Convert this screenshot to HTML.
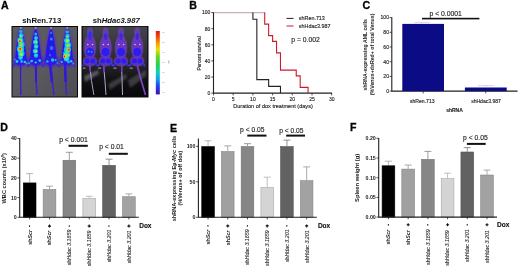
<!DOCTYPE html><html><head><meta charset="utf-8"><style>html,body{margin:0;padding:0;background:#fff}svg{display:block;will-change:transform;opacity:0.999}text{font-family:"Liberation Sans",sans-serif}</style></head><body>
<svg width="520" height="269" viewBox="0 0 520 269">
<defs>
<filter id="b1" x="-50%" y="-50%" width="200%" height="200%"><feGaussianBlur stdDeviation="1"/></filter>
<filter id="b2" x="-50%" y="-50%" width="200%" height="200%"><feGaussianBlur stdDeviation="0.6"/></filter>
<filter id="b3" x="-50%" y="-50%" width="200%" height="200%"><feGaussianBlur stdDeviation="2.2"/></filter>
<filter id="soft" x="-5%" y="-5%" width="110%" height="110%"><feGaussianBlur stdDeviation="0.35"/></filter>
<linearGradient id="cb" x1="0" y1="0" x2="0" y2="1"><stop offset="0" stop-color="#d81810"/><stop offset="0.08" stop-color="#f04010"/><stop offset="0.2" stop-color="#f8a000"/><stop offset="0.29" stop-color="#e4e000"/><stop offset="0.41" stop-color="#60d820"/><stop offset="0.55" stop-color="#20d060"/><stop offset="0.66" stop-color="#10d0c0"/><stop offset="0.76" stop-color="#10a0f0"/><stop offset="0.87" stop-color="#2040f0"/><stop offset="1" stop-color="#4010b0"/></linearGradient>
<linearGradient id="bg1" x1="0" y1="0" x2="1" y2="1"><stop offset="0" stop-color="#5c5c62"/><stop offset="0.5" stop-color="#5a5a60"/><stop offset="1" stop-color="#4c4c52"/></linearGradient>
<linearGradient id="bg2" x1="0" y1="0" x2="0" y2="1"><stop offset="0" stop-color="#44444c"/><stop offset="0.5" stop-color="#2a2a30"/><stop offset="0.75" stop-color="#121216"/><stop offset="1" stop-color="#08080a"/></linearGradient>
<clipPath id="c1"><rect x="12.5" y="27" width="64.5" height="69.5"/></clipPath>
<clipPath id="c2"><rect x="82.5" y="26.5" width="65" height="70"/></clipPath>
</defs>
<g>
<text x="0.9" y="9.1" font-size="10.6" font-weight="bold" fill="#000" stroke="#000" stroke-width="0.3">A</text>
<text x="189.2" y="8.9" font-size="10.6" font-weight="bold" fill="#000" stroke="#000" stroke-width="0.3">B</text>
<text x="362.6" y="9.1" font-size="10.6" font-weight="bold" fill="#000" stroke="#000" stroke-width="0.3">C</text>
<text x="0.2" y="130.9" font-size="10.6" font-weight="bold" fill="#000" stroke="#000" stroke-width="0.3">D</text>
<text x="169.9" y="131.6" font-size="10.6" font-weight="bold" fill="#000" stroke="#000" stroke-width="0.3">E</text>
<text x="349.9" y="131.1" font-size="10.6" font-weight="bold" fill="#000" stroke="#000" stroke-width="0.3">F</text>
<text x="41.8" y="22.6" font-size="7.8" font-weight="bold" text-anchor="middle" fill="#111">shRen.713</text>
<text x="116.2" y="22.7" font-size="7.7" font-weight="bold" text-anchor="middle" fill="#111">sh<tspan font-style="italic">Hdac3.987</tspan></text>
<rect x="11.5" y="26" width="66.5" height="71.5" fill="#0a0a0c"/>
<g clip-path="url(#c1)">
<rect x="12" y="26.5" width="66" height="71" fill="url(#bg1)"/>
<path d="M20.8 26.5 C23.2 30.5 25.42 38.5 27.4 58 C27.9 64 24.76 66 20.8 66 C16.84 66 13.700000000000001 64 14.200000000000001 58 C16.18 38.5 18.400000000000002 30.5 20.8 26.5 Z" fill="#5a30b8" filter="url(#b1)"/>
<ellipse cx="20.8" cy="61.0" rx="7.8" ry="5.5" fill="#4a2cc0" opacity="1" filter="url(#b1)"/>
<path d="M35.7 26.5 C38.1 30.5 40.32 38.5 42.300000000000004 58 C42.800000000000004 64 39.660000000000004 66 35.7 66 C31.740000000000002 66 28.6 64 29.1 58 C31.080000000000005 38.5 33.300000000000004 30.5 35.7 26.5 Z" fill="#5a30b8" filter="url(#b1)"/>
<ellipse cx="35.7" cy="61.0" rx="7.8" ry="5.5" fill="#4a2cc0" opacity="1" filter="url(#b1)"/>
<path d="M51 26.5 C53.4 30.5 55.62 38.5 57.6 58 C58.1 64 54.96 66 51 66 C47.04 66 43.9 64 44.4 58 C46.38 38.5 48.6 30.5 51 26.5 Z" fill="#5a30b8" filter="url(#b1)"/>
<ellipse cx="51.0" cy="61.0" rx="7.8" ry="5.5" fill="#4a2cc0" opacity="1" filter="url(#b1)"/>
<path d="M67.2 26.5 C69.60000000000001 30.5 71.82000000000001 38.5 73.8 58 C74.3 64 71.16 66 67.2 66 C63.24 66 60.1 64 60.6 58 C62.580000000000005 38.5 64.8 30.5 67.2 26.5 Z" fill="#5a30b8" filter="url(#b1)"/>
<ellipse cx="67.2" cy="61.0" rx="7.8" ry="5.5" fill="#4a2cc0" opacity="1" filter="url(#b1)"/>
<path d="M20.8 28 C22.6 32 24.580000000000002 40 26.200000000000003 56 C26.700000000000003 62 24.04 64 20.8 64 C17.560000000000002 64 14.9 62 15.4 56 C17.02 40 19.0 32 20.8 28 Z" fill="#2618ea" filter="url(#b2)"/>
<ellipse cx="20.8" cy="60.5" rx="6.5" ry="4.6" fill="#2a1ce6" opacity="1" filter="url(#b2)"/>
<path d="M15.8 62 L13.4 66.5 M25.8 62 L28.200000000000003 66.5" stroke="#4428d0" stroke-width="1.6" stroke-linecap="round" fill="none" filter="url(#b2)"/>
<path d="M35.7 28 C37.5 32 39.480000000000004 40 41.1 56 C41.6 62 38.940000000000005 64 35.7 64 C32.46 64 29.800000000000004 62 30.300000000000004 56 C31.92 40 33.900000000000006 32 35.7 28 Z" fill="#2618ea" filter="url(#b2)"/>
<ellipse cx="35.7" cy="60.5" rx="6.5" ry="4.6" fill="#2a1ce6" opacity="1" filter="url(#b2)"/>
<path d="M30.700000000000003 62 L28.300000000000004 66.5 M40.7 62 L43.1 66.5" stroke="#4428d0" stroke-width="1.6" stroke-linecap="round" fill="none" filter="url(#b2)"/>
<path d="M51 28 C52.8 32 54.78 40 56.4 56 C56.9 62 54.24 64 51 64 C47.76 64 45.1 62 45.6 56 C47.22 40 49.2 32 51 28 Z" fill="#2618ea" filter="url(#b2)"/>
<ellipse cx="51.0" cy="60.5" rx="6.5" ry="4.6" fill="#2a1ce6" opacity="1" filter="url(#b2)"/>
<path d="M46 62 L43.6 66.5 M56 62 L58.4 66.5" stroke="#4428d0" stroke-width="1.6" stroke-linecap="round" fill="none" filter="url(#b2)"/>
<path d="M67.2 28 C69.0 32 70.98 40 72.60000000000001 56 C73.10000000000001 62 70.44 64 67.2 64 C63.96 64 61.300000000000004 62 61.800000000000004 56 C63.42 40 65.4 32 67.2 28 Z" fill="#2618ea" filter="url(#b2)"/>
<ellipse cx="67.2" cy="60.5" rx="6.5" ry="4.6" fill="#2a1ce6" opacity="1" filter="url(#b2)"/>
<path d="M62.2 62 L59.800000000000004 66.5 M72.2 62 L74.60000000000001 66.5" stroke="#4428d0" stroke-width="1.6" stroke-linecap="round" fill="none" filter="url(#b2)"/>
<path d="M20.6 63 Q20.2 80 20.9 95" stroke="#3a22d4" stroke-width="1.5" fill="none" filter="url(#b2)"/>
<path d="M20.6 63 Q20.4 72 20.475 82" stroke="#3018e0" stroke-width="2.6" fill="none" filter="url(#b2)"/>
<path d="M35.4 63 Q35.9 80 37 95" stroke="#3a22d4" stroke-width="1.5" fill="none" filter="url(#b2)"/>
<path d="M35.4 63 Q35.65 72 36.05 82" stroke="#3018e0" stroke-width="2.6" fill="none" filter="url(#b2)"/>
<path d="M50 63 Q52 80 54 95" stroke="#3a22d4" stroke-width="1.5" fill="none" filter="url(#b2)"/>
<path d="M50 63 Q51.0 72 52.0 82" stroke="#3018e0" stroke-width="2.6" fill="none" filter="url(#b2)"/>
<path d="M64.9 63 Q65.6 80 66.5 95" stroke="#3a22d4" stroke-width="1.5" fill="none" filter="url(#b2)"/>
<path d="M64.9 63 Q65.25 72 65.65 82" stroke="#3018e0" stroke-width="2.6" fill="none" filter="url(#b2)"/>
<circle cx="20.8" cy="31.5" r="1.7" fill="#18b4f0" opacity="1" filter="url(#b2)"/>
<circle cx="21.1" cy="35.5" r="2.4" fill="#18b4f0" opacity="1" filter="url(#b2)"/>
<circle cx="20.4" cy="40.0" r="3.1" fill="#18b4f0" opacity="1" filter="url(#b2)"/>
<circle cx="21.3" cy="44.5" r="3.4" fill="#18b4f0" opacity="1" filter="url(#b2)"/>
<circle cx="20.5" cy="49.0" r="3.7" fill="#18b4f0" opacity="1" filter="url(#b2)"/>
<circle cx="21.2" cy="53.5" r="3.4" fill="#18b4f0" opacity="1" filter="url(#b2)"/>
<circle cx="20.6" cy="57.5" r="2.4" fill="#18b4f0" opacity="1" filter="url(#b2)"/>
<circle cx="21.6" cy="61.5" r="1.4" fill="#18b4f0" opacity="1" filter="url(#b2)"/>
<circle cx="21.0" cy="36.0" r="1.4" fill="#30e0c8" opacity="1" filter="url(#b2)"/>
<circle cx="20.3" cy="40.8" r="2.2" fill="#30e0c8" opacity="1" filter="url(#b2)"/>
<circle cx="21.2" cy="45.0" r="2.2" fill="#30e0c8" opacity="1" filter="url(#b2)"/>
<circle cx="20.4" cy="49.5" r="2.6" fill="#30e0c8" opacity="1" filter="url(#b2)"/>
<circle cx="21.2" cy="54.0" r="2.2" fill="#30e0c8" opacity="1" filter="url(#b2)"/>
<circle cx="20.6" cy="57.5" r="1.2" fill="#30e0c8" opacity="1" filter="url(#b2)"/>
<circle cx="20.2" cy="40.5" r="1.9" fill="#78e858" opacity="1" filter="url(#b2)"/>
<circle cx="21.1" cy="45.0" r="1.7" fill="#78e858" opacity="1" filter="url(#b2)"/>
<circle cx="20.3" cy="49.3" r="2.1" fill="#78e858" opacity="1" filter="url(#b2)"/>
<circle cx="21.2" cy="54.0" r="1.6" fill="#78e858" opacity="1" filter="url(#b2)"/>
<circle cx="20.8" cy="36.5" r="1.0" fill="#78e858" opacity="1" filter="url(#b2)"/>
<circle cx="35.7" cy="34.0" r="1.5" fill="#18b0f0" opacity="1" filter="url(#b2)"/>
<circle cx="36.0" cy="38.0" r="2.0" fill="#18b0f0" opacity="1" filter="url(#b2)"/>
<circle cx="35.5" cy="42.0" r="2.6" fill="#18b0f0" opacity="1" filter="url(#b2)"/>
<circle cx="36.1" cy="46.5" r="2.4" fill="#18b0f0" opacity="1" filter="url(#b2)"/>
<circle cx="35.4" cy="51.0" r="2.6" fill="#18b0f0" opacity="1" filter="url(#b2)"/>
<circle cx="36.0" cy="55.5" r="2.2" fill="#18b0f0" opacity="1" filter="url(#b2)"/>
<circle cx="36.0" cy="38.2" r="1.2" fill="#28d8d8" opacity="1" filter="url(#b2)"/>
<circle cx="35.5" cy="42.0" r="1.8" fill="#28d8d8" opacity="1" filter="url(#b2)"/>
<circle cx="36.1" cy="46.5" r="1.5" fill="#28d8d8" opacity="1" filter="url(#b2)"/>
<circle cx="35.5" cy="51.3" r="1.8" fill="#28d8d8" opacity="1" filter="url(#b2)"/>
<circle cx="36.0" cy="55.3" r="1.3" fill="#28d8d8" opacity="1" filter="url(#b2)"/>
<circle cx="67.2" cy="32.0" r="1.7" fill="#18b4f0" opacity="1" filter="url(#b2)"/>
<circle cx="67.5" cy="36.0" r="2.3" fill="#18b4f0" opacity="1" filter="url(#b2)"/>
<circle cx="67.0" cy="40.5" r="3.0" fill="#18b4f0" opacity="1" filter="url(#b2)"/>
<circle cx="67.8" cy="45.0" r="3.3" fill="#18b4f0" opacity="1" filter="url(#b2)"/>
<circle cx="67.4" cy="49.5" r="3.6" fill="#18b4f0" opacity="1" filter="url(#b2)"/>
<circle cx="66.8" cy="54.0" r="3.7" fill="#18b4f0" opacity="1" filter="url(#b2)"/>
<circle cx="66.6" cy="58.5" r="2.9" fill="#18b4f0" opacity="1" filter="url(#b2)"/>
<circle cx="68.4" cy="62.0" r="1.4" fill="#18b4f0" opacity="1" filter="url(#b2)"/>
<circle cx="67.5" cy="36.7" r="1.3" fill="#30e0c8" opacity="1" filter="url(#b2)"/>
<circle cx="67.0" cy="41.0" r="2.0" fill="#30e0c8" opacity="1" filter="url(#b2)"/>
<circle cx="67.8" cy="45.5" r="2.2" fill="#30e0c8" opacity="1" filter="url(#b2)"/>
<circle cx="67.6" cy="50.0" r="2.4" fill="#30e0c8" opacity="1" filter="url(#b2)"/>
<circle cx="66.6" cy="54.5" r="2.6" fill="#30e0c8" opacity="1" filter="url(#b2)"/>
<circle cx="66.3" cy="58.6" r="2.2" fill="#30e0c8" opacity="1" filter="url(#b2)"/>
<circle cx="67.5" cy="40.5" r="1.7" fill="#78e858" opacity="1" filter="url(#b2)"/>
<circle cx="68.0" cy="45.5" r="1.8" fill="#78e858" opacity="1" filter="url(#b2)"/>
<circle cx="68.2" cy="50.0" r="2.0" fill="#78e858" opacity="1" filter="url(#b2)"/>
<circle cx="66.0" cy="55.5" r="2.1" fill="#78e858" opacity="1" filter="url(#b2)"/>
<circle cx="67.4" cy="36.5" r="1.0" fill="#78e858" opacity="1" filter="url(#b2)"/>
<circle cx="20.0" cy="41.2" r="1.5" fill="#f0d818" opacity="1" filter="url(#b2)"/>
<circle cx="20.2" cy="48.9" r="1.7" fill="#f0c010" opacity="1" filter="url(#b2)"/>
<circle cx="19.8" cy="41.2" r="0.9" fill="#e82010" opacity="1" filter="url(#b2)"/>
<circle cx="20.2" cy="49.0" r="1.0" fill="#e83010" opacity="1" filter="url(#b2)"/>
<circle cx="21.3" cy="54.8" r="1.1" fill="#c8e820" opacity="1" filter="url(#b2)"/>
<circle cx="17.0" cy="61.5" r="1.4" fill="#20d0e8" opacity="1" filter="url(#b2)"/>
<circle cx="24.8" cy="62.0" r="1.3" fill="#20c8e8" opacity="1" filter="url(#b2)"/>
<circle cx="14.8" cy="59.5" r="1.0" fill="#20a0f0" opacity="1" filter="url(#b2)"/>
<circle cx="26.8" cy="63.5" r="0.9" fill="#28b0f0" opacity="1" filter="url(#b2)"/>
<circle cx="36.0" cy="41.8" r="1.2" fill="#80e840" opacity="1" filter="url(#b2)"/>
<circle cx="36.0" cy="46.8" r="1.0" fill="#60e070" opacity="1" filter="url(#b2)"/>
<circle cx="35.7" cy="51.3" r="1.3" fill="#80e840" opacity="1" filter="url(#b2)"/>
<circle cx="36.2" cy="42.0" r="0.6" fill="#f0d020" opacity="1" filter="url(#b2)"/>
<circle cx="31.7" cy="61.0" r="1.3" fill="#20c8e8" opacity="1" filter="url(#b2)"/>
<circle cx="39.7" cy="60.5" r="1.3" fill="#20d0e0" opacity="1" filter="url(#b2)"/>
<circle cx="35.7" cy="62.5" r="1.1" fill="#28d8d0" opacity="1" filter="url(#b2)"/>
<circle cx="29.2" cy="63.0" r="0.9" fill="#20a8f0" opacity="1" filter="url(#b2)"/>
<circle cx="51.0" cy="33.0" r="1.2" fill="#2070f0" opacity="1" filter="url(#b2)"/>
<circle cx="51.3" cy="39.0" r="1.5" fill="#2088f0" opacity="1" filter="url(#b2)"/>
<circle cx="51.6" cy="48.0" r="1.9" fill="#3070f0" opacity="1" filter="url(#b2)"/>
<circle cx="52.6" cy="60.0" r="1.7" fill="#20c0e8" opacity="1" filter="url(#b2)"/>
<circle cx="47.4" cy="61.5" r="1.2" fill="#20b0e8" opacity="1" filter="url(#b2)"/>
<circle cx="55.7" cy="60.0" r="1.1" fill="#20b0e8" opacity="1" filter="url(#b2)"/>
<circle cx="50.0" cy="55.0" r="1.2" fill="#3060f0" opacity="1" filter="url(#b2)"/>
<circle cx="57.3" cy="63.0" r="0.8" fill="#20a8f0" opacity="1" filter="url(#b2)"/>
<circle cx="67.6" cy="41.0" r="1.0" fill="#d0e820" opacity="1" filter="url(#b2)"/>
<circle cx="68.8" cy="49.6" r="1.5" fill="#f0a010" opacity="1" filter="url(#b2)"/>
<circle cx="68.9" cy="49.8" r="0.8" fill="#e83010" opacity="1" filter="url(#b2)"/>
<circle cx="64.6" cy="56.5" r="1.7" fill="#e8d820" opacity="1" filter="url(#b2)"/>
<circle cx="64.3" cy="56.5" r="0.9" fill="#e82810" opacity="1" filter="url(#b2)"/>
<circle cx="68.8" cy="55.5" r="1.0" fill="#b0e830" opacity="1" filter="url(#b2)"/>
<circle cx="71.1" cy="61.3" r="1.3" fill="#20d0e0" opacity="1" filter="url(#b2)"/>
<circle cx="61.8" cy="61.8" r="1.1" fill="#20c0e8" opacity="1" filter="url(#b2)"/>
<circle cx="73.2" cy="63.5" r="0.9" fill="#20a8f0" opacity="1" filter="url(#b2)"/>
<circle cx="20.8" cy="28" r="1.0" fill="#a0a0b0" filter="url(#b2)"/>
<circle cx="35.7" cy="28" r="1.0" fill="#a0a0b0" filter="url(#b2)"/>
<circle cx="51" cy="28" r="1.0" fill="#a0a0b0" filter="url(#b2)"/>
<circle cx="67.2" cy="28" r="1.0" fill="#a0a0b0" filter="url(#b2)"/>
</g>
<rect x="81.5" y="26" width="67" height="71.5" fill="#0a0a0c"/>
<g clip-path="url(#c2)">
<rect x="82.5" y="26.5" width="65" height="70" fill="url(#bg2)"/>
<path d="M84 76 L98 70 L99 74 L85 82 Z" fill="#8a8a92" opacity="0.55" filter="url(#b1)"/>
<path d="M108 84 L126 74 L127 78 L110 90 Z" fill="#8a8a92" opacity="0.35" filter="url(#b1)"/>
<path d="M128 80 L146 70 L146 76 L130 88 Z" fill="#8a8a92" opacity="0.35" filter="url(#b1)"/>
<ellipse cx="90.0" cy="32.0" rx="3.0" ry="4.8" fill="#5a5862" opacity="1" filter="url(#b2)"/>
<ellipse cx="90.0" cy="47.0" rx="6.0" ry="12.5" fill="#54525c" opacity="1" filter="url(#b2)"/>
<ellipse cx="90.0" cy="61.0" rx="7.0" ry="5.2" fill="#504e58" opacity="1" filter="url(#b2)"/>
<ellipse cx="105.6" cy="32.0" rx="3.0" ry="4.8" fill="#5a5862" opacity="1" filter="url(#b2)"/>
<ellipse cx="105.6" cy="47.0" rx="6.0" ry="12.5" fill="#54525c" opacity="1" filter="url(#b2)"/>
<ellipse cx="105.6" cy="61.0" rx="7.0" ry="5.2" fill="#504e58" opacity="1" filter="url(#b2)"/>
<ellipse cx="121.0" cy="32.0" rx="3.0" ry="4.8" fill="#5a5862" opacity="1" filter="url(#b2)"/>
<ellipse cx="121.0" cy="47.0" rx="6.0" ry="12.5" fill="#54525c" opacity="1" filter="url(#b2)"/>
<ellipse cx="121.0" cy="61.0" rx="7.0" ry="5.2" fill="#504e58" opacity="1" filter="url(#b2)"/>
<ellipse cx="137.2" cy="32.0" rx="3.0" ry="4.8" fill="#5a5862" opacity="1" filter="url(#b2)"/>
<ellipse cx="137.2" cy="47.0" rx="6.0" ry="12.5" fill="#54525c" opacity="1" filter="url(#b2)"/>
<ellipse cx="137.2" cy="61.0" rx="7.0" ry="5.2" fill="#504e58" opacity="1" filter="url(#b2)"/>
<ellipse cx="90.0" cy="34.0" rx="2.5" ry="5.2" fill="#6a30c8" opacity="0.95" filter="url(#b1)"/>
<ellipse cx="90.0" cy="48.0" rx="5.6" ry="11.5" fill="#6c30cc" opacity="0.95" filter="url(#b1)"/>
<ellipse cx="90.0" cy="61.0" rx="6.8" ry="4.8" fill="#6030c0" opacity="0.95" filter="url(#b1)"/>
<path d="M85 62 L82.8 65.5 M95 62 L97.2 65.5" stroke="#5a30c8" stroke-width="1.8" stroke-linecap="round" fill="none" filter="url(#b2)"/>
<ellipse cx="105.6" cy="34.0" rx="2.5" ry="5.2" fill="#6a30c8" opacity="0.95" filter="url(#b1)"/>
<ellipse cx="105.6" cy="48.0" rx="5.6" ry="11.5" fill="#6c30cc" opacity="0.95" filter="url(#b1)"/>
<ellipse cx="105.6" cy="61.0" rx="6.8" ry="4.8" fill="#6030c0" opacity="0.95" filter="url(#b1)"/>
<path d="M100.6 62 L98.39999999999999 65.5 M110.6 62 L112.8 65.5" stroke="#5a30c8" stroke-width="1.8" stroke-linecap="round" fill="none" filter="url(#b2)"/>
<ellipse cx="121.0" cy="34.0" rx="2.5" ry="5.2" fill="#6a30c8" opacity="0.95" filter="url(#b1)"/>
<ellipse cx="121.0" cy="48.0" rx="5.6" ry="11.5" fill="#6c30cc" opacity="0.95" filter="url(#b1)"/>
<ellipse cx="121.0" cy="61.0" rx="6.8" ry="4.8" fill="#6030c0" opacity="0.95" filter="url(#b1)"/>
<path d="M116 62 L113.8 65.5 M126 62 L128.2 65.5" stroke="#5a30c8" stroke-width="1.8" stroke-linecap="round" fill="none" filter="url(#b2)"/>
<ellipse cx="137.2" cy="34.0" rx="2.5" ry="5.2" fill="#6a30c8" opacity="0.95" filter="url(#b1)"/>
<ellipse cx="137.2" cy="48.0" rx="5.6" ry="11.5" fill="#6c30cc" opacity="0.95" filter="url(#b1)"/>
<ellipse cx="137.2" cy="61.0" rx="6.8" ry="4.8" fill="#6030c0" opacity="0.95" filter="url(#b1)"/>
<path d="M132.2 62 L130.0 65.5 M142.2 62 L144.39999999999998 65.5" stroke="#5a30c8" stroke-width="1.8" stroke-linecap="round" fill="none" filter="url(#b2)"/>
<path d="M89.8 66 Q91 80 93.9 95" stroke="#a898c8" stroke-width="1.0" fill="none" filter="url(#b2)"/>
<path d="M89.8 65 L90.4 72" stroke="#6a38c8" stroke-width="1.6" fill="none" filter="url(#b2)"/>
<path d="M103.7 66 Q105 80 106 95" stroke="#b0a8c8" stroke-width="1.0" fill="none" filter="url(#b2)"/>
<path d="M103.7 65 L104.35 72" stroke="#6a38c8" stroke-width="1.6" fill="none" filter="url(#b2)"/>
<path d="M121.7 66 Q122 80 122.5 95" stroke="#b0a8c8" stroke-width="1.0" fill="none" filter="url(#b2)"/>
<path d="M121.7 65 L121.85 72" stroke="#6a38c8" stroke-width="1.6" fill="none" filter="url(#b2)"/>
<path d="M137.3 66 Q141 80 145.5 95" stroke="#7a48c8" stroke-width="1.6" fill="none" filter="url(#b2)"/>
<path d="M137.3 65 L139.15 72" stroke="#6a38c8" stroke-width="1.6" fill="none" filter="url(#b2)"/>
<ellipse cx="90.0" cy="36.5" rx="1.5" ry="3.6" fill="#3826ec" opacity="1" filter="url(#b2)"/>
<circle cx="90.0" cy="52.0" r="3.9" fill="#2a1cf2" opacity="1" filter="url(#b2)"/>
<circle cx="87.2" cy="61.0" r="2.5" fill="#2a1cf2" opacity="1" filter="url(#b2)"/>
<circle cx="92.8" cy="61.0" r="2.5" fill="#2a1cf2" opacity="1" filter="url(#b2)"/>
<circle cx="84.0" cy="64.5" r="1.1" fill="#3424e8" opacity="1" filter="url(#b2)"/>
<circle cx="96.0" cy="64.5" r="1.1" fill="#3424e8" opacity="1" filter="url(#b2)"/>
<circle cx="87.8" cy="44.5" r="0.8" fill="#e0c0e8" opacity="1" filter="url(#b2)"/>
<circle cx="92.6" cy="44.5" r="0.8" fill="#e0c0e8" opacity="1" filter="url(#b2)"/>
<rect x="82.5" y="67.6" width="3" height="1.1" fill="#c8c8cc" opacity="0.75" filter="url(#b2)"/>
<ellipse cx="105.6" cy="36.5" rx="1.5" ry="3.6" fill="#3826ec" opacity="1" filter="url(#b2)"/>
<circle cx="105.6" cy="52.0" r="3.9" fill="#2a1cf2" opacity="1" filter="url(#b2)"/>
<circle cx="102.8" cy="61.0" r="2.5" fill="#2a1cf2" opacity="1" filter="url(#b2)"/>
<circle cx="108.4" cy="61.0" r="2.5" fill="#2a1cf2" opacity="1" filter="url(#b2)"/>
<circle cx="99.6" cy="64.5" r="1.1" fill="#3424e8" opacity="1" filter="url(#b2)"/>
<circle cx="111.6" cy="64.5" r="1.1" fill="#3424e8" opacity="1" filter="url(#b2)"/>
<circle cx="103.4" cy="44.5" r="0.8" fill="#e0c0e8" opacity="1" filter="url(#b2)"/>
<circle cx="108.2" cy="44.5" r="0.8" fill="#e0c0e8" opacity="1" filter="url(#b2)"/>
<rect x="98.1" y="67.6" width="3" height="1.1" fill="#c8c8cc" opacity="0.75" filter="url(#b2)"/>
<ellipse cx="121.0" cy="36.5" rx="1.5" ry="3.6" fill="#3826ec" opacity="1" filter="url(#b2)"/>
<circle cx="121.0" cy="52.0" r="3.9" fill="#2a1cf2" opacity="1" filter="url(#b2)"/>
<circle cx="118.2" cy="61.0" r="2.5" fill="#2a1cf2" opacity="1" filter="url(#b2)"/>
<circle cx="123.8" cy="61.0" r="2.5" fill="#2a1cf2" opacity="1" filter="url(#b2)"/>
<circle cx="115.0" cy="64.5" r="1.1" fill="#3424e8" opacity="1" filter="url(#b2)"/>
<circle cx="127.0" cy="64.5" r="1.1" fill="#3424e8" opacity="1" filter="url(#b2)"/>
<circle cx="118.8" cy="44.5" r="0.8" fill="#e0c0e8" opacity="1" filter="url(#b2)"/>
<circle cx="123.6" cy="44.5" r="0.8" fill="#e0c0e8" opacity="1" filter="url(#b2)"/>
<rect x="113.5" y="67.6" width="3" height="1.1" fill="#c8c8cc" opacity="0.75" filter="url(#b2)"/>
<ellipse cx="137.2" cy="36.5" rx="1.5" ry="3.6" fill="#3826ec" opacity="1" filter="url(#b2)"/>
<circle cx="137.2" cy="52.0" r="3.9" fill="#2a1cf2" opacity="1" filter="url(#b2)"/>
<circle cx="134.4" cy="61.0" r="2.5" fill="#2a1cf2" opacity="1" filter="url(#b2)"/>
<circle cx="140.0" cy="61.0" r="2.5" fill="#2a1cf2" opacity="1" filter="url(#b2)"/>
<circle cx="131.2" cy="64.5" r="1.1" fill="#3424e8" opacity="1" filter="url(#b2)"/>
<circle cx="143.2" cy="64.5" r="1.1" fill="#3424e8" opacity="1" filter="url(#b2)"/>
<circle cx="135.0" cy="44.5" r="0.8" fill="#e0c0e8" opacity="1" filter="url(#b2)"/>
<circle cx="139.8" cy="44.5" r="0.8" fill="#e0c0e8" opacity="1" filter="url(#b2)"/>
<rect x="129.7" y="67.6" width="3" height="1.1" fill="#c8c8cc" opacity="0.75" filter="url(#b2)"/>
<circle cx="90.3" cy="33.5" r="1.9" fill="#2a30f8" opacity="1" filter="url(#b2)"/>
<circle cx="88.5" cy="51.5" r="1.0" fill="#30a0f0" opacity="1" filter="url(#b2)"/>
<circle cx="91.6" cy="52.0" r="0.9" fill="#3090f0" opacity="1" filter="url(#b2)"/>
</g>
<rect x="155.8" y="31" width="4" height="63.4" fill="url(#cb)"/>
<rect x="162.2" y="32" width="2.4" height="0.8" fill="#c8c8c8"/>
<rect x="162.2" y="42" width="2.4" height="0.8" fill="#c8c8c8"/>
<rect x="162.2" y="52" width="2.4" height="0.8" fill="#c8c8c8"/>
<rect x="162.2" y="62" width="2.4" height="0.8" fill="#c8c8c8"/>
<rect x="162.2" y="72" width="2.4" height="0.8" fill="#c8c8c8"/>
<rect x="162.2" y="82" width="2.4" height="0.8" fill="#c8c8c8"/>
<rect x="162.2" y="92" width="2.4" height="0.8" fill="#c8c8c8"/>
<rect x="168.2" y="60.5" width="1.2" height="3" fill="#b8b8b8"/>
<path d="M213.5 12.299999999999994 V93.1 H332.0" stroke="#222" stroke-width="1.1" fill="none"/>
<line x1="211.3" x2="213.5" y1="93.1" y2="93.1" stroke="#222" stroke-width="0.8"/>
<text x="210.3" y="94.89999999999999" font-size="5" text-anchor="end" fill="#222" stroke="#222" stroke-width="0.13">0</text>
<line x1="211.3" x2="213.5" y1="77.0" y2="77.0" stroke="#222" stroke-width="0.8"/>
<text x="210.3" y="78.8" font-size="5" text-anchor="end" fill="#222" stroke="#222" stroke-width="0.13">20</text>
<line x1="211.3" x2="213.5" y1="60.89999999999999" y2="60.89999999999999" stroke="#222" stroke-width="0.8"/>
<text x="210.3" y="62.69999999999999" font-size="5" text-anchor="end" fill="#222" stroke="#222" stroke-width="0.13">40</text>
<line x1="211.3" x2="213.5" y1="44.8" y2="44.8" stroke="#222" stroke-width="0.8"/>
<text x="210.3" y="46.599999999999994" font-size="5" text-anchor="end" fill="#222" stroke="#222" stroke-width="0.13">60</text>
<line x1="211.3" x2="213.5" y1="28.69999999999999" y2="28.69999999999999" stroke="#222" stroke-width="0.8"/>
<text x="210.3" y="30.49999999999999" font-size="5" text-anchor="end" fill="#222" stroke="#222" stroke-width="0.13">80</text>
<line x1="211.3" x2="213.5" y1="12.599999999999994" y2="12.599999999999994" stroke="#222" stroke-width="0.8"/>
<text x="210.3" y="14.399999999999995" font-size="5" text-anchor="end" fill="#222" stroke="#222" stroke-width="0.13">100</text>
<line x1="213.5" x2="213.5" y1="93.1" y2="95.39999999999999" stroke="#222" stroke-width="0.8"/>
<text x="213.5" y="101.2" font-size="5" text-anchor="middle" fill="#222" stroke="#222" stroke-width="0.13">0</text>
<line x1="233.2" x2="233.2" y1="93.1" y2="95.39999999999999" stroke="#222" stroke-width="0.8"/>
<text x="233.2" y="101.2" font-size="5" text-anchor="middle" fill="#222" stroke="#222" stroke-width="0.13">5</text>
<line x1="252.9" x2="252.9" y1="93.1" y2="95.39999999999999" stroke="#222" stroke-width="0.8"/>
<text x="252.9" y="101.2" font-size="5" text-anchor="middle" fill="#222" stroke="#222" stroke-width="0.13">10</text>
<line x1="272.6" x2="272.6" y1="93.1" y2="95.39999999999999" stroke="#222" stroke-width="0.8"/>
<text x="272.6" y="101.2" font-size="5" text-anchor="middle" fill="#222" stroke="#222" stroke-width="0.13">15</text>
<line x1="292.3" x2="292.3" y1="93.1" y2="95.39999999999999" stroke="#222" stroke-width="0.8"/>
<text x="292.3" y="101.2" font-size="5" text-anchor="middle" fill="#222" stroke="#222" stroke-width="0.13">20</text>
<line x1="312.0" x2="312.0" y1="93.1" y2="95.39999999999999" stroke="#222" stroke-width="0.8"/>
<text x="312.0" y="101.2" font-size="5" text-anchor="middle" fill="#222" stroke="#222" stroke-width="0.13">25</text>
<line x1="331.7" x2="331.7" y1="93.1" y2="95.39999999999999" stroke="#222" stroke-width="0.8"/>
<text x="331.7" y="101.2" font-size="5" text-anchor="middle" fill="#222" stroke="#222" stroke-width="0.13">30</text>
<text x="273" y="108.1" font-size="5.55" text-anchor="middle" fill="#222" stroke="#222" stroke-width="0.13">Duration of dox treatment (days)</text>
<text transform="translate(201.4,53.4) rotate(-90)" font-size="4.82" text-anchor="middle" fill="#222" stroke="#222" stroke-width="0.13">Percent survival</text>
<path d="M214.0 12.599999999999994 H265.22" stroke="#c8b0b4" stroke-width="1.1" fill="none"/>
<path d="M252.90 12.60 L252.90 19.28 L256.84 19.28 L256.84 79.66 L268.66 79.66 L268.66 86.42 L280.48 86.42 L280.48 93.10" stroke="#222" stroke-width="1.1" fill="none"/>
<path d="M264.72 12.60 L264.72 24.11 L268.66 24.11 L268.66 35.62 L272.60 35.62 L272.60 41.34 L276.54 41.34 L276.54 52.85 L280.48 52.85 L280.48 70.08 L296.24 70.08 L296.24 75.87 L300.18 75.87 L300.18 87.38 L308.06 87.38 L308.06 93.10" stroke="#cc1a2c" stroke-width="1.1" fill="none"/>
<line x1="286.5" x2="293.6" y1="18.4" y2="18.4" stroke="#222" stroke-width="1"/>
<line x1="286.5" x2="293.6" y1="26" y2="26" stroke="#cc1a2c" stroke-width="1"/>
<text x="298.8" y="20.3" font-size="5.4" fill="#222" stroke="#222" stroke-width="0.13">shRen.713</text>
<text x="298.8" y="27.9" font-size="5.4" fill="#222" stroke="#222" stroke-width="0.13">shHdac3.987</text>
<text x="291.3" y="42.3" font-size="6.8" fill="#222" stroke="#222" stroke-width="0.13">p = 0.002</text>
<path d="M391.8 17.299999999999994 V91.1 H517.6" stroke="#222" stroke-width="1.1" fill="none"/>
<line x1="389.6" x2="391.8" y1="91.1" y2="91.1" stroke="#222" stroke-width="0.8"/>
<text x="389.0" y="92.89999999999999" font-size="5.1" text-anchor="end" fill="#222" stroke="#222" stroke-width="0.13">0</text>
<line x1="389.6" x2="391.8" y1="76.39999999999999" y2="76.39999999999999" stroke="#222" stroke-width="0.8"/>
<text x="389.0" y="78.19999999999999" font-size="5.1" text-anchor="end" fill="#222" stroke="#222" stroke-width="0.13">20</text>
<line x1="389.6" x2="391.8" y1="61.699999999999996" y2="61.699999999999996" stroke="#222" stroke-width="0.8"/>
<text x="389.0" y="63.49999999999999" font-size="5.1" text-anchor="end" fill="#222" stroke="#222" stroke-width="0.13">40</text>
<line x1="389.6" x2="391.8" y1="46.99999999999999" y2="46.99999999999999" stroke="#222" stroke-width="0.8"/>
<text x="389.0" y="48.79999999999999" font-size="5.1" text-anchor="end" fill="#222" stroke="#222" stroke-width="0.13">60</text>
<line x1="389.6" x2="391.8" y1="32.3" y2="32.3" stroke="#222" stroke-width="0.8"/>
<text x="389.0" y="34.099999999999994" font-size="5.1" text-anchor="end" fill="#222" stroke="#222" stroke-width="0.13">80</text>
<line x1="389.6" x2="391.8" y1="17.599999999999994" y2="17.599999999999994" stroke="#222" stroke-width="0.8"/>
<text x="389.0" y="19.399999999999995" font-size="5.1" text-anchor="end" fill="#222" stroke="#222" stroke-width="0.13">100</text>
<rect x="402.3" y="23.9" width="41.7" height="67.19999999999999" fill="#0b0b86"/>
<rect x="464.9" y="87.5" width="41.8" height="3.5999999999999943" fill="#0b0b86"/>
<path d="M414 22.6 H429.6 M421.8 22.6 V24" stroke="#b8b8e0" stroke-width="0.6" fill="none"/>
<path d="M478 85.6 H493.6 M485.8 85.6 V87.5" stroke="#b8b8e0" stroke-width="0.6" fill="none"/>
<line x1="423.2" x2="423.2" y1="91.1" y2="93.39999999999999" stroke="#222" stroke-width="0.8"/>
<line x1="485.8" x2="485.8" y1="91.1" y2="93.39999999999999" stroke="#222" stroke-width="0.8"/>
<text x="422.3" y="103.2" font-size="5.1" text-anchor="middle" fill="#222" stroke="#222" stroke-width="0.13">shRen.713</text>
<text x="486" y="103.2" font-size="5.05" text-anchor="middle" fill="#222" stroke="#222" stroke-width="0.13">shHdac3.987</text>
<text x="454.5" y="112" font-size="5" font-weight="bold" text-anchor="middle" fill="#222" stroke="#222" stroke-width="0.12">shRNA</text>
<text transform="translate(367.4,54.75) rotate(-90)" font-size="5.17" font-weight="bold" text-anchor="middle" fill="#222">shRNA-expressing AML cells</text>
<text transform="translate(373.7,54.35) rotate(-90)" font-size="5.26" font-weight="bold" text-anchor="middle" fill="#222">(%Venus+dsRed+ of total Venus)</text>
<rect x="422" y="17.8" width="57.4" height="1.6" fill="#111"/>
<text x="429.5" y="15.9" font-size="6.8" fill="#222" stroke="#222" stroke-width="0.13">p &lt; 0.0001</text>
<path d="M29.65 182.62800000000001 V173.566 M26.15 173.566 H33.15" stroke="#a0a0a0" stroke-width="0.75" fill="none"/>
<rect x="23.30" y="182.93" width="12.70" height="34.37" fill="#000000" stroke="#000000" stroke-width="0.6"/>
<path d="M49.5 189.12900000000002 V186.174 M46.0 186.174 H53.0" stroke="#8c8c8c" stroke-width="0.75" fill="none"/>
<rect x="43.15" y="189.43" width="12.70" height="27.87" fill="#a0a0a0" stroke="#858585" stroke-width="0.6"/>
<path d="M69.35 159.973 V152.29000000000002 M65.85 152.29000000000002 H72.85" stroke="#7c7c7c" stroke-width="0.75" fill="none"/>
<rect x="63.00" y="160.27" width="12.70" height="57.03" fill="#868686" stroke="#707070" stroke-width="0.6"/>
<path d="M89.2 198.191 V196.221 M85.7 196.221 H92.7" stroke="#acacac" stroke-width="0.75" fill="none"/>
<rect x="82.85" y="198.49" width="12.70" height="18.81" fill="#d4d4d4" stroke="#a8a8a8" stroke-width="0.6"/>
<path d="M109.05000000000001 165.09500000000003 V159.185 M105.55000000000001 159.185 H112.55000000000001" stroke="#707070" stroke-width="0.75" fill="none"/>
<rect x="102.70" y="165.40" width="12.70" height="51.90" fill="#626262" stroke="#505050" stroke-width="0.6"/>
<path d="M128.9 196.418 V193.857 M125.4 193.857 H132.4" stroke="#909090" stroke-width="0.75" fill="none"/>
<rect x="122.55" y="196.72" width="12.70" height="20.58" fill="#a2a2a2" stroke="#868686" stroke-width="0.6"/>
<path d="M19.7 138.2 V217.3 H138.8" stroke="#222" stroke-width="1.1" fill="none"/>
<line x1="17.5" x2="19.7" y1="217.3" y2="217.3" stroke="#222" stroke-width="0.8"/>
<text x="16.8" y="219.20000000000002" font-size="5.3" font-weight="bold" text-anchor="end" fill="#222">0</text>
<line x1="17.5" x2="19.7" y1="197.60000000000002" y2="197.60000000000002" stroke="#222" stroke-width="0.8"/>
<text x="16.8" y="199.50000000000003" font-size="5.3" font-weight="bold" text-anchor="end" fill="#222">10</text>
<line x1="17.5" x2="19.7" y1="177.9" y2="177.9" stroke="#222" stroke-width="0.8"/>
<text x="16.8" y="179.8" font-size="5.3" font-weight="bold" text-anchor="end" fill="#222">20</text>
<line x1="17.5" x2="19.7" y1="158.20000000000002" y2="158.20000000000002" stroke="#222" stroke-width="0.8"/>
<text x="16.8" y="160.10000000000002" font-size="5.3" font-weight="bold" text-anchor="end" fill="#222">30</text>
<line x1="17.5" x2="19.7" y1="138.5" y2="138.5" stroke="#222" stroke-width="0.8"/>
<text x="16.8" y="140.4" font-size="5.3" font-weight="bold" text-anchor="end" fill="#222">40</text>
<line x1="29.65" x2="29.65" y1="217.3" y2="219.4" stroke="#222" stroke-width="0.8"/>
<text transform="translate(31.5,230.0) rotate(-90)" font-size="5.3" font-weight="bold" text-anchor="end" fill="#222" stroke="#222" stroke-width="0">sh<tspan font-style="italic">Scr</tspan></text>
<path d="M29.549999999999997 225.29999999999998 V226.9" stroke="#111" stroke-width="1.0" fill="none"/>
<line x1="49.5" x2="49.5" y1="217.3" y2="219.4" stroke="#222" stroke-width="0.8"/>
<text transform="translate(51.35,230.6) rotate(-90)" font-size="5.3" font-weight="bold" text-anchor="end" fill="#222" stroke="#222" stroke-width="0">sh<tspan font-style="italic">Scr</tspan></text>
<path d="M48.0 226.1 H51.0 M49.5 224.6 V227.6" stroke="#111" stroke-width="1.1" fill="none"/>
<line x1="69.35" x2="69.35" y1="217.3" y2="219.4" stroke="#222" stroke-width="0.8"/>
<text transform="translate(71.19999999999999,229.6) rotate(-90)" font-size="5.3" font-weight="normal" text-anchor="end" fill="#333" stroke="#333" stroke-width="0.12">sh<tspan font-style="italic">Hdac 3.1659</tspan></text>
<path d="M69.25 225.29999999999998 V226.9" stroke="#111" stroke-width="1.0" fill="none"/>
<line x1="89.2" x2="89.2" y1="217.3" y2="219.4" stroke="#222" stroke-width="0.8"/>
<text transform="translate(91.05,230.5) rotate(-90)" font-size="5.3" font-weight="normal" text-anchor="end" fill="#333" stroke="#333" stroke-width="0.12">sh<tspan font-style="italic">Hdac 3.1659</tspan></text>
<path d="M87.7 226.1 H90.7 M89.2 224.6 V227.6" stroke="#111" stroke-width="1.1" fill="none"/>
<line x1="109.05000000000001" x2="109.05000000000001" y1="217.3" y2="219.4" stroke="#222" stroke-width="0.8"/>
<text transform="translate(110.9,229.6) rotate(-90)" font-size="5.3" font-weight="normal" text-anchor="end" fill="#333" stroke="#333" stroke-width="0.12">sh<tspan font-style="italic">Hdac 3.201</tspan></text>
<path d="M108.95000000000002 225.29999999999998 V226.9" stroke="#111" stroke-width="1.0" fill="none"/>
<line x1="128.9" x2="128.9" y1="217.3" y2="219.4" stroke="#222" stroke-width="0.8"/>
<text transform="translate(130.75,230.5) rotate(-90)" font-size="5.3" font-weight="normal" text-anchor="end" fill="#333" stroke="#333" stroke-width="0.12">sh<tspan font-style="italic">Hdac 3.201</tspan></text>
<path d="M127.4 226.1 H130.4 M128.9 224.6 V227.6" stroke="#111" stroke-width="1.1" fill="none"/>
<text x="139.2" y="228.35" font-size="6.5" font-weight="bold" fill="#111" stroke="#111" stroke-width="0.15">Dox</text>
<text transform="translate(6.35,178.3) rotate(-90)" font-size="5.67" font-weight="bold" text-anchor="middle" fill="#222">WBC counts (x10<tspan font-size="3.6" dy="-1.9">9</tspan><tspan dy="1.9">)</tspan></text>
<text x="59.2" y="142" font-size="6.8" fill="#222" stroke="#222" stroke-width="0.13">p &lt; 0.001</text>
<rect x="68.5" y="144.8" width="19.3" height="2" fill="#111"/>
<text x="99.2" y="148.6" font-size="6.75" fill="#222" stroke="#222" stroke-width="0.13">p &lt; 0.01</text>
<rect x="108.8" y="152.8" width="19" height="2" fill="#111"/>
<path d="M208.05 146.3 V140.762 M204.55 140.762 H211.55" stroke="#a0a0a0" stroke-width="0.75" fill="none"/>
<rect x="201.75" y="146.60" width="12.60" height="70.70" fill="#000000" stroke="#000000" stroke-width="0.6"/>
<path d="M227.77 151.27 V145.87400000000002 M224.27 145.87400000000002 H231.27" stroke="#8c8c8c" stroke-width="0.75" fill="none"/>
<rect x="221.47" y="151.57" width="12.60" height="65.73" fill="#a0a0a0" stroke="#858585" stroke-width="0.6"/>
<path d="M247.49 146.3 V143.673 M243.99 143.673 H250.99" stroke="#7c7c7c" stroke-width="0.75" fill="none"/>
<rect x="241.19" y="146.60" width="12.60" height="70.70" fill="#868686" stroke="#707070" stroke-width="0.6"/>
<path d="M267.21000000000004 187.125 V177.185 M263.71000000000004 177.185 H270.71000000000004" stroke="#acacac" stroke-width="0.75" fill="none"/>
<rect x="260.91" y="187.43" width="12.60" height="29.88" fill="#d4d4d4" stroke="#a8a8a8" stroke-width="0.6"/>
<path d="M286.93 146.3 V140.12300000000002 M283.43 140.12300000000002 H290.43" stroke="#707070" stroke-width="0.75" fill="none"/>
<rect x="280.63" y="146.60" width="12.60" height="70.70" fill="#626262" stroke="#505050" stroke-width="0.6"/>
<path d="M306.65 180.38 V166.89000000000001 M303.15 166.89000000000001 H310.15" stroke="#909090" stroke-width="0.75" fill="none"/>
<rect x="300.35" y="180.68" width="12.60" height="36.62" fill="#a2a2a2" stroke="#868686" stroke-width="0.6"/>
<path d="M198.4 138.54500000000002 V217.3 H316.8" stroke="#222" stroke-width="1.1" fill="none"/>
<line x1="196.20000000000002" x2="198.4" y1="217.3" y2="217.3" stroke="#222" stroke-width="0.8"/>
<text x="195.5" y="219.20000000000002" font-size="5.3" font-weight="bold" text-anchor="end" fill="#222">0</text>
<line x1="196.20000000000002" x2="198.4" y1="181.8" y2="181.8" stroke="#222" stroke-width="0.8"/>
<text x="195.5" y="183.70000000000002" font-size="5.3" font-weight="bold" text-anchor="end" fill="#222">50</text>
<line x1="196.20000000000002" x2="198.4" y1="146.3" y2="146.3" stroke="#222" stroke-width="0.8"/>
<text x="195.5" y="148.20000000000002" font-size="5.3" font-weight="bold" text-anchor="end" fill="#222">100</text>
<line x1="208.05" x2="208.05" y1="217.3" y2="219.4" stroke="#222" stroke-width="0.8"/>
<text transform="translate(209.9,229.8) rotate(-90)" font-size="5.3" font-weight="bold" text-anchor="end" fill="#222" stroke="#222" stroke-width="0">sh<tspan font-style="italic">Scr</tspan></text>
<path d="M207.95000000000002 225.1 V226.70000000000002" stroke="#111" stroke-width="1.0" fill="none"/>
<line x1="227.77" x2="227.77" y1="217.3" y2="219.4" stroke="#222" stroke-width="0.8"/>
<text transform="translate(229.62,230.4) rotate(-90)" font-size="5.3" font-weight="bold" text-anchor="end" fill="#222" stroke="#222" stroke-width="0">sh<tspan font-style="italic">Scr</tspan></text>
<path d="M226.27 225.9 H229.27 M227.77 224.4 V227.4" stroke="#111" stroke-width="1.1" fill="none"/>
<line x1="247.49" x2="247.49" y1="217.3" y2="219.4" stroke="#222" stroke-width="0.8"/>
<text transform="translate(249.34,229.4) rotate(-90)" font-size="5.3" font-weight="normal" text-anchor="end" fill="#333" stroke="#333" stroke-width="0.12">sh<tspan font-style="italic">Hdac 3.1659</tspan></text>
<path d="M247.39000000000001 225.1 V226.70000000000002" stroke="#111" stroke-width="1.0" fill="none"/>
<line x1="267.21000000000004" x2="267.21000000000004" y1="217.3" y2="219.4" stroke="#222" stroke-width="0.8"/>
<text transform="translate(269.06000000000006,230.3) rotate(-90)" font-size="5.3" font-weight="normal" text-anchor="end" fill="#333" stroke="#333" stroke-width="0.12">sh<tspan font-style="italic">Hdac 3.1659</tspan></text>
<path d="M265.71000000000004 225.9 H268.71000000000004 M267.21000000000004 224.4 V227.4" stroke="#111" stroke-width="1.1" fill="none"/>
<line x1="286.93" x2="286.93" y1="217.3" y2="219.4" stroke="#222" stroke-width="0.8"/>
<text transform="translate(288.78000000000003,229.4) rotate(-90)" font-size="5.3" font-weight="normal" text-anchor="end" fill="#333" stroke="#333" stroke-width="0.12">sh<tspan font-style="italic">Hdac 3.201</tspan></text>
<path d="M286.83 225.1 V226.70000000000002" stroke="#111" stroke-width="1.0" fill="none"/>
<line x1="306.65" x2="306.65" y1="217.3" y2="219.4" stroke="#222" stroke-width="0.8"/>
<text transform="translate(308.5,230.3) rotate(-90)" font-size="5.3" font-weight="normal" text-anchor="end" fill="#333" stroke="#333" stroke-width="0.12">sh<tspan font-style="italic">Hdac 3.201</tspan></text>
<path d="M305.15 225.9 H308.15 M306.65 224.4 V227.4" stroke="#111" stroke-width="1.1" fill="none"/>
<text x="317.9" y="228.15" font-size="6.5" font-weight="bold" fill="#111" stroke="#111" stroke-width="0.15">Dox</text>
<text transform="translate(175.9,178.55) rotate(-90)" font-size="5.61" font-weight="bold" text-anchor="middle" fill="#222">shRNA-expressing Eµ-<tspan font-style="italic">Myc</tspan> cells</text>
<text transform="translate(182.1,178.05) rotate(-90)" font-size="5.55" font-weight="bold" text-anchor="middle" fill="#222">(%Venus+ of off dox)</text>
<text x="240.1" y="131.8" font-size="6.7" fill="#222" stroke="#222" stroke-width="0.13">p &lt; 0.05</text>
<rect x="247.3" y="134.6" width="19.2" height="2" fill="#111"/>
<text x="279.2" y="133.1" font-size="6.7" fill="#222" stroke="#222" stroke-width="0.13">p &lt; 0.05</text>
<rect x="286.2" y="134.6" width="18.8" height="2" fill="#111"/>
<path d="M388.45 165.486 V161.1914 M384.95 161.1914 H391.95" stroke="#a0a0a0" stroke-width="0.75" fill="none"/>
<rect x="382.10" y="165.79" width="12.70" height="51.31" fill="#000000" stroke="#000000" stroke-width="0.6"/>
<path d="M408.15999999999997 168.79559999999998 V165.01319999999998 M404.65999999999997 165.01319999999998 H411.65999999999997" stroke="#8c8c8c" stroke-width="0.75" fill="none"/>
<rect x="401.81" y="169.10" width="12.70" height="48.00" fill="#a0a0a0" stroke="#858585" stroke-width="0.6"/>
<path d="M427.87 159.1032 V151.3808 M424.37 151.3808 H431.37" stroke="#7c7c7c" stroke-width="0.75" fill="none"/>
<rect x="421.52" y="159.40" width="12.70" height="57.70" fill="#868686" stroke="#707070" stroke-width="0.6"/>
<path d="M447.58 178.291 V173.20839999999998 M444.08 173.20839999999998 H451.08" stroke="#acacac" stroke-width="0.75" fill="none"/>
<rect x="441.23" y="178.59" width="12.70" height="38.51" fill="#d4d4d4" stroke="#a8a8a8" stroke-width="0.6"/>
<path d="M467.28999999999996 151.696 V147.5984 M463.78999999999996 147.5984 H470.78999999999996" stroke="#707070" stroke-width="0.75" fill="none"/>
<rect x="460.94" y="152.00" width="12.70" height="65.10" fill="#626262" stroke="#505050" stroke-width="0.6"/>
<path d="M487.0 174.7056 V170.0958 M483.5 170.0958 H490.5" stroke="#909090" stroke-width="0.75" fill="none"/>
<rect x="480.65" y="175.01" width="12.70" height="42.09" fill="#a2a2a2" stroke="#868686" stroke-width="0.6"/>
<path d="M378.7 137.99999999999997 V217.1 H497" stroke="#222" stroke-width="1.1" fill="none"/>
<line x1="376.5" x2="378.7" y1="217.1" y2="217.1" stroke="#222" stroke-width="0.8"/>
<text x="375.8" y="219.0" font-size="5.3" font-weight="bold" text-anchor="end" fill="#222">0.00</text>
<line x1="376.5" x2="378.7" y1="197.39999999999998" y2="197.39999999999998" stroke="#222" stroke-width="0.8"/>
<text x="375.8" y="199.29999999999998" font-size="5.3" font-weight="bold" text-anchor="end" fill="#222">0.05</text>
<line x1="376.5" x2="378.7" y1="177.7" y2="177.7" stroke="#222" stroke-width="0.8"/>
<text x="375.8" y="179.6" font-size="5.3" font-weight="bold" text-anchor="end" fill="#222">0.10</text>
<line x1="376.5" x2="378.7" y1="158.0" y2="158.0" stroke="#222" stroke-width="0.8"/>
<text x="375.8" y="159.9" font-size="5.3" font-weight="bold" text-anchor="end" fill="#222">0.15</text>
<line x1="376.5" x2="378.7" y1="138.29999999999998" y2="138.29999999999998" stroke="#222" stroke-width="0.8"/>
<text x="375.8" y="140.2" font-size="5.3" font-weight="bold" text-anchor="end" fill="#222">0.20</text>
<line x1="388.45" x2="388.45" y1="217.1" y2="219.2" stroke="#222" stroke-width="0.8"/>
<text transform="translate(390.3,229.70000000000002) rotate(-90)" font-size="5.3" font-weight="bold" text-anchor="end" fill="#222" stroke="#222" stroke-width="0">sh<tspan font-style="italic">Scr</tspan></text>
<path d="M388.34999999999997 224.0 V225.60000000000002" stroke="#111" stroke-width="1.0" fill="none"/>
<line x1="408.15999999999997" x2="408.15999999999997" y1="217.1" y2="219.2" stroke="#222" stroke-width="0.8"/>
<text transform="translate(410.01,230.3) rotate(-90)" font-size="5.3" font-weight="bold" text-anchor="end" fill="#222" stroke="#222" stroke-width="0">sh<tspan font-style="italic">Scr</tspan></text>
<path d="M406.65999999999997 224.8 H409.65999999999997 M408.15999999999997 223.3 V226.3" stroke="#111" stroke-width="1.1" fill="none"/>
<line x1="427.87" x2="427.87" y1="217.1" y2="219.2" stroke="#222" stroke-width="0.8"/>
<text transform="translate(429.72,229.3) rotate(-90)" font-size="5.3" font-weight="normal" text-anchor="end" fill="#333" stroke="#333" stroke-width="0.12">sh<tspan font-style="italic">Hdac 3.1659</tspan></text>
<path d="M427.77 224.0 V225.60000000000002" stroke="#111" stroke-width="1.0" fill="none"/>
<line x1="447.58" x2="447.58" y1="217.1" y2="219.2" stroke="#222" stroke-width="0.8"/>
<text transform="translate(449.43,230.20000000000002) rotate(-90)" font-size="5.3" font-weight="normal" text-anchor="end" fill="#333" stroke="#333" stroke-width="0.12">sh<tspan font-style="italic">Hdac 3.1659</tspan></text>
<path d="M446.08 224.8 H449.08 M447.58 223.3 V226.3" stroke="#111" stroke-width="1.1" fill="none"/>
<line x1="467.28999999999996" x2="467.28999999999996" y1="217.1" y2="219.2" stroke="#222" stroke-width="0.8"/>
<text transform="translate(469.14,229.3) rotate(-90)" font-size="5.3" font-weight="normal" text-anchor="end" fill="#333" stroke="#333" stroke-width="0.12">sh<tspan font-style="italic">Hdac 3.201</tspan></text>
<path d="M467.18999999999994 224.0 V225.60000000000002" stroke="#111" stroke-width="1.0" fill="none"/>
<line x1="487.0" x2="487.0" y1="217.1" y2="219.2" stroke="#222" stroke-width="0.8"/>
<text transform="translate(488.85,230.20000000000002) rotate(-90)" font-size="5.3" font-weight="normal" text-anchor="end" fill="#333" stroke="#333" stroke-width="0.12">sh<tspan font-style="italic">Hdac 3.201</tspan></text>
<path d="M485.5 224.8 H488.5 M487.0 223.3 V226.3" stroke="#111" stroke-width="1.1" fill="none"/>
<text x="497" y="227.05" font-size="6.5" font-weight="bold" fill="#111" stroke="#111" stroke-width="0.15">Dox</text>
<text transform="translate(358.7,177.9) rotate(-90)" font-size="5.82" font-weight="bold" text-anchor="middle" fill="#222">Spleen weight (g)</text>
<text x="463.1" y="139.8" font-size="6.75" fill="#222" stroke="#222" stroke-width="0.13">p &lt; 0.05</text>
<rect x="466.9" y="142.9" width="18.8" height="2" fill="#111"/>
</g></svg></body></html>
